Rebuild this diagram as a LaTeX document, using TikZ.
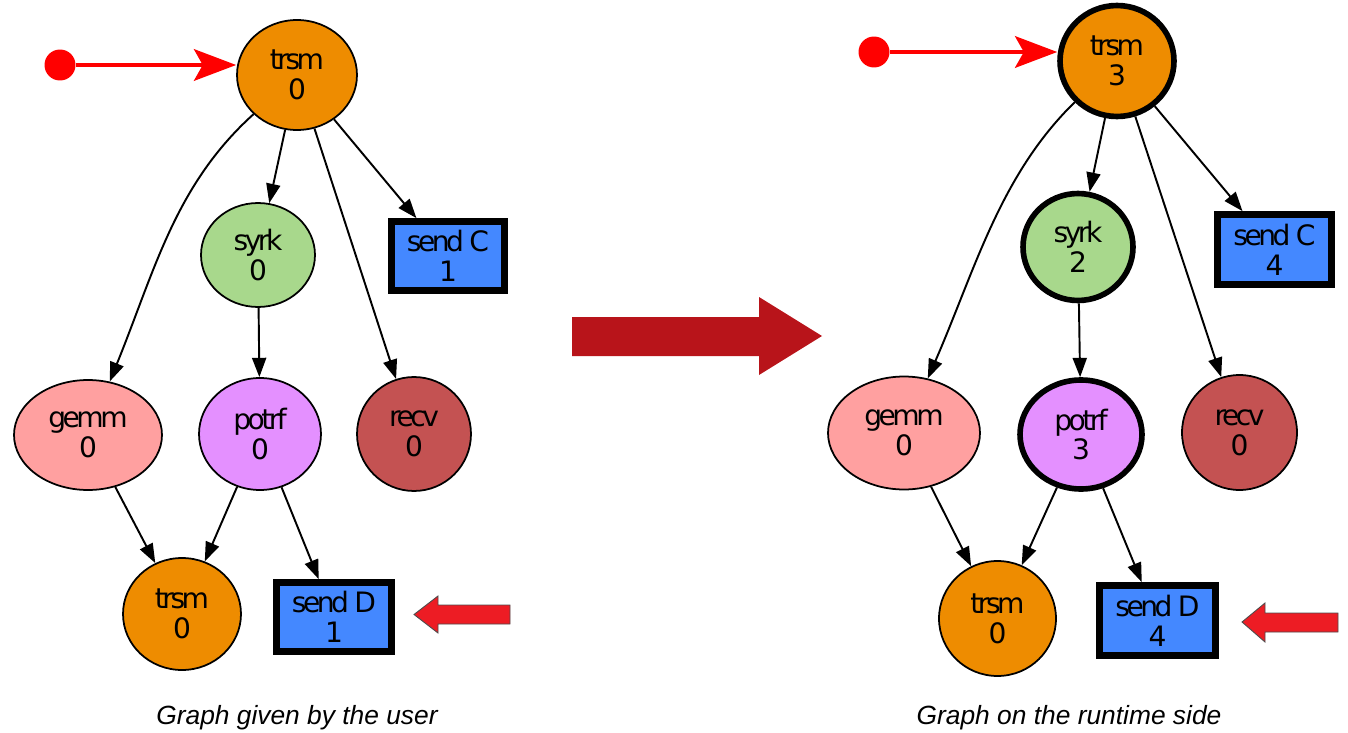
\documentclass[tikz,border=0pt]{standalone}
\usepackage{fontspec}
\usepackage{tikz}
\usetikzlibrary{shapes,arrows.meta,positioning}
\newfontfamily\gvfont{DejaVu Sans}[LetterSpace=-12.5]
\newfontfamily\capfont{Liberation Sans}
\definecolor{trsmcolor}{RGB}{238,140,0}
\definecolor{syrkcolor}{RGB}{168,216,140}
\definecolor{gemmcolor}{RGB}{255,160,160}
\definecolor{potrfcolor}{RGB}{228,144,255}
\definecolor{recvcolor}{RGB}{196,82,82}
\definecolor{sendcolor}{RGB}{68,136,255}
\definecolor{pushcolor}{RGB}{237,28,36}
\definecolor{bigcolor}{RGB}{184,20,26}

\begin{document}
\begin{tikzpicture}[
    x=0.02cm, y=-0.02cm,
    task/.style={ellipse, draw, line width=1pt, inner sep=0pt, align=center, font=\gvfont\fontsize{16pt}{17pt}\selectfont},
    comm/.style={rectangle, draw, fill=sendcolor, line width=3.8pt, inner sep=0pt, align=center, font=\gvfont\fontsize{16pt}{17pt}\selectfont},
    done/.style={line width=3.2pt},
    arrow/.style={-{Triangle[length=11pt,width=8pt]}, line width=1.1pt},
    seed/.style={-{Stealth[length=24pt,width=18pt,inset=5pt]}, red, line width=2.2pt},
    seeddot/.style={circle, fill=red, inner sep=0pt, minimum size=0.62cm},
    blockarrow/.style={fill=pushcolor, draw=black!70, line width=0.5pt},
    caption/.style={font=\capfont\itshape\fontsize{15pt}{17pt}\selectfont}
]
\useasboundingbox (0,0) rectangle (1348,733);

% graph given by the user
\node[task, fill=trsmcolor, minimum width=2.4cm, minimum height=2.2cm] (utrsm) at (297,75) {trsm\\0};
\node[task, fill=syrkcolor, minimum width=2.28cm, minimum height=2.08cm] (usyrk) at (258,255) {syrk\\0};
\node[comm, minimum width=2.26cm, minimum height=1.38cm] (usendc) at (448,256) {send C\\1};
\node[task, fill=gemmcolor, minimum width=2.96cm, minimum height=2.2cm] (ugemm) at (88,435) {gemm\\0};
\node[task, fill=potrfcolor, minimum width=2.44cm, minimum height=2.24cm] (upotrf) at (260,434) {potrf\\0};
\node[task, fill=recvcolor, minimum width=2.28cm, minimum height=2.28cm] (urecv) at (414,434) {recv\\0};
\node[task, fill=trsmcolor, minimum width=2.36cm, minimum height=2.24cm] (utrsmb) at (182,614) {trsm\\0};
\node[comm, minimum width=2.3cm, minimum height=1.38cm] (usendd) at (334,617) {send D\\1};

\draw[arrow] (utrsm) -- (usyrk);
\draw[arrow] (utrsm) -- (usendc);
\draw[arrow] (utrsm) -- (urecv);
\draw[arrow] (utrsm) .. controls (175,185) and (155,270) .. (ugemm);
\draw[arrow] (usyrk) -- (upotrf);
\draw[arrow] (ugemm) -- (utrsmb);
\draw[arrow] (upotrf) -- (utrsmb);
\draw[arrow] (upotrf) -- (usendd);

\node[seeddot] (udot) at (60,65) {};
\draw[seed] (udot) -- (utrsm.west |- udot);
\draw[blockarrow] (510,605) -- (438,605) -- (438,596) -- (414,614.5) -- (438,633) -- (438,624) -- (510,624) -- cycle;

% transformation
\fill[bigcolor] (572,317) -- (759,317) -- (759,297) -- (822,336) -- (759,375) -- (759,356) -- (572,356) -- cycle;

% graph on the runtime side
\node[task, done, fill=trsmcolor, minimum width=2.28cm, minimum height=2.22cm] (rtrsm) at (1117,61) {trsm\\3};
\node[task, done, fill=syrkcolor, minimum width=2.2cm, minimum height=2.14cm] (rsyrk) at (1078,247) {syrk\\2};
\node[comm, minimum width=2.28cm, minimum height=1.4cm] (rsendc) at (1274.5,249.5) {send C\\4};
\node[task, fill=gemmcolor, minimum width=3.04cm, minimum height=2.26cm] (rgemm) at (904,433) {gemm\\0};
\node[task, done, fill=potrfcolor, minimum width=2.44cm, minimum height=2.18cm] (rpotrf) at (1081,434.5) {potrf\\3};
\node[task, fill=recvcolor, minimum width=2.3cm, minimum height=2.3cm] (rrecv) at (1239.5,432.5) {recv\\0};
\node[task, fill=trsmcolor, minimum width=2.34cm, minimum height=2.3cm] (rtrsmb) at (997.5,618.5) {trsm\\0};
\node[comm, minimum width=2.32cm, minimum height=1.4cm] (rsendd) at (1157.5,620.5) {send D\\4};

\draw[arrow] (rtrsm) -- (rsyrk);
\draw[arrow] (rtrsm) -- (rsendc);
\draw[arrow] (rtrsm) -- (rrecv);
\draw[arrow] (rtrsm) .. controls (1000,175) and (975,270) .. (rgemm);
\draw[arrow] (rsyrk) -- (rpotrf);
\draw[arrow] (rgemm) -- (rtrsmb);
\draw[arrow] (rpotrf) -- (rtrsmb);
\draw[arrow] (rpotrf) -- (rsendd);

\node[seeddot] (rdot) at (874,52) {};
\draw[seed] (rdot) -- (rtrsm.west |- rdot);
\draw[blockarrow] (1338,613) -- (1265,613) -- (1265,603) -- (1242,622) -- (1265,642) -- (1265,632) -- (1338,632) -- cycle;

\node[caption] (ucap) at (297,718) {Graph given by the user};
\node[caption] (rcap) at (1069,718) {Graph on the runtime side};
\end{tikzpicture}
\end{document}
